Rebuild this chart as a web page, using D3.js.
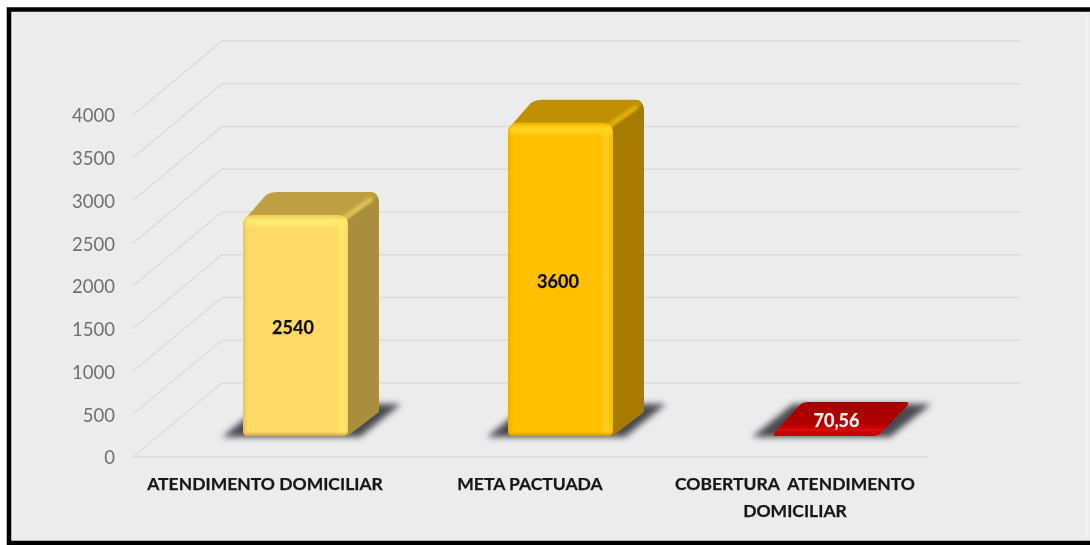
<!DOCTYPE html>
<html><head><meta charset="utf-8">
<script src="https://cdnjs.cloudflare.com/ajax/libs/d3/7.8.5/d3.min.js"></script>
<style>html,body{margin:0;padding:0;background:#fff;overflow:hidden}svg{display:block}text{white-space:pre}</style>
</head><body><svg id="c" width="1090" height="545"></svg>
<script>
const categories = ["ATENDIMENTO DOMICILIAR", "META PACTUADA", "COBERTURA  ATENDIMENTO\nDOMICILIAR"];
const values = [2540, 3600, 70.56];
const valueLabels = ["2540", "3600", "70,56"];
const yTicks = [0, 500, 1000, 1500, 2000, 2500, 3000, 3500, 4000];
const frontColors = ["#FFD966", "#FFC000", "#C00000"];
const lightColors = ["#FFE870", "#FFD21A", "#D80808"];
const edgeColors = ["#C9A23C", "#C99400", "#8A0000"];
const topColors = ["#BFA040", "#BF9000", "#A80000"];
const sideColors = ["#A98E3E", "#A67C00", "#8A0000"];
const labelColors = ["#111", "#111", "#F4F0EC"];

const W = 1090, H = 545;
const FONT = "Lato, Carlito, 'Open Sans', sans-serif";
const svg = d3.select("#c");
const defs = svg.append("defs");
const soft = defs.append("filter").attr("id","soft").attr("x","-5%").attr("y","-5%").attr("width","110%").attr("height","110%");
soft.append("feGaussianBlur").attr("stdDeviation",0.5);
const sh = defs.append("filter").attr("id","shadow").attr("x","-20%").attr("y","-50%").attr("width","140%").attr("height","200%");
sh.append("feGaussianBlur").attr("stdDeviation",3.2);
const bl = defs.append("filter").attr("id","bevelBlur").attr("filterUnits","userSpaceOnUse").attr("x",0).attr("y",0).attr("width",W).attr("height",H);
bl.append("feGaussianBlur").attr("stdDeviation",1.5);
const flatGrad = defs.append("linearGradient").attr("id","flatGrad").attr("x1",0).attr("x2",0).attr("y1",0).attr("y2",1);
flatGrad.append("stop").attr("offset","0%").attr("stop-color",topColors[2]);
flatGrad.append("stop").attr("offset","62%").attr("stop-color","#AE0000");
flatGrad.append("stop").attr("offset","82%").attr("stop-color",lightColors[2]);
flatGrad.append("stop").attr("offset","100%").attr("stop-color",frontColors[2]);

// scales
const x = d3.scaleBand().domain(categories).range([133, 928]).paddingInner(0.604).paddingOuter(0.302);
const xCat = d3.scaleBand().domain(categories).range([133, 928]);
const yAxis = d3.scaleLinear().domain([0, 4000]).range([457, 115]);
const yBar = d3.scaleLinear().domain([0, 4000]).range([436, 88]);
const wallDx = 89, wallDy = -74, barDx = 31, barDy = -23, barShift = 30, minH = 11;

// panel
const root = svg.append("g").attr("filter","url(#soft)");
root.append("rect").attr("x",9).attr("y",9).attr("width",W).attr("height",H).attr("fill","#ececec");
root.append("rect").attr("x",9).attr("y",9.5).attr("width",W).attr("height",533.5).attr("fill","none").attr("stroke","#000").attr("stroke-width",4.5);
root.append("rect").attr("x",1086).attr("y",12).attr("width",1.5).attr("height",527).attr("fill","#f3f3f3");

// gridlines
const grid = root.append("g").attr("fill","none").attr("stroke","#dcdcdc").attr("stroke-width",1.5);
yTicks.forEach(t => {
  const y0 = yAxis(t);
  grid.append("path").attr("d", d3.line()([[133,y0],[133+wallDx,y0+wallDy],[1020,y0+wallDy]]));
});
grid.append("path").attr("d", d3.line()([[133,yAxis(0)],[928,yAxis(0)]]));

// y tick labels
root.append("g").selectAll("text").data(yTicks).join("text")
  .attr("x",115).attr("y",d=>yAxis(d)+1).attr("dy","0.35em").attr("text-anchor","end")
  .attr("font-family",FONT).attr("font-size",18.5).attr("fill","#6f6f6f").text(d=>d);

// bars
values.forEach((v,i) => {
  const g = root.append("g");
  const x0 = x(categories[i]) + barShift, x1 = x0 + x.bandwidth();
  const yB = yBar(0), yT = Math.min(yBar(v), yB - minH);
  const flat = v < 500;
  const bY = yT + barDy, r = 10;

  // floor shadow
  g.append("path").attr("d", d3.line()([[x0-21,yB+1],[x0+20,yB-32],[x1+53,yB-32],[x1+12,yB+1]]))
    .attr("fill","#4a4a50").attr("filter","url(#shadow)");

  if (flat) {
    // the bar is so short that only a slab remains: one bevelled parallelogram
    g.append("path").attr("d",
      `M${x0+3},${yB} Q${x0-1},${yB} ${x0+2},${yB-4} L${x0+barDx-3},${bY+2} Q${x0+barDx},${bY} ${x0+barDx+4},${bY} L${x1+barDx-3},${bY} Q${x1+barDx+1},${bY} ${x1+barDx-2},${bY+4} L${x1+3},${yB-3} Q${x1},${yB} ${x1-4},${yB} Z`)
      .attr("fill","url(#flatGrad)");
  } else {
    // side
    g.append("path").attr("d",
      `M${x1-3},${yT+4} L${x1+barDx-7},${bY+2} Q${x1+barDx},${bY+1} ${x1+barDx},${bY+11} L${x1+barDx},${yB+barDy-1} L${x1+1},${yB-1} L${x1-3},${yB-1} Z`)
      .attr("fill",sideColors[i]);
    // top
    g.append("path").attr("d",
      `M${x0+2},${yT+4} L${x0+barDx-8},${bY+3} Q${x0+barDx-3},${bY} ${x0+barDx+4},${bY} L${x1+barDx-9},${bY} Q${x1+barDx-2},${bY} ${x1+barDx-2},${bY+5} L${x1-1},${yT+5} Z`)
      .attr("fill",topColors[i]);
    // lit edge between top and side
    g.append("path").attr("d", d3.line()([[x1-4,yT+3],[x1+barDx-7,bY+7]]))
      .attr("stroke",lightColors[i]).attr("stroke-opacity",0.5).attr("stroke-width",5).attr("filter","url(#bevelBlur)");
    // front
    const clipId = "front"+i;
    const frontD = `M${x0},${yT+r} Q${x0},${yT} ${x0+r},${yT} L${x1-r},${yT} Q${x1},${yT} ${x1},${yT+r} L${x1},${yB-6} Q${x1},${yB} ${x1-6},${yB} L${x0+5},${yB} Q${x0},${yB} ${x0},${yB-5} Z`;
    defs.append("clipPath").attr("id",clipId).append("path").attr("d",frontD);
    g.append("path").attr("d",frontD).attr("fill",frontColors[i]);
    const f = g.append("g").attr("clip-path",`url(#${clipId})`);
    f.append("rect").attr("x",x0).attr("y",yT+3).attr("width",x1-x0).attr("height",8).attr("fill",lightColors[i]).attr("filter","url(#bevelBlur)");
    f.append("rect").attr("x",x1-10).attr("y",yT+6).attr("width",7).attr("height",yB-yT).attr("fill",lightColors[i]).attr("opacity",.8).attr("filter","url(#bevelBlur)");
    f.append("rect").attr("x",x0-1).attr("y",yT).attr("width",x1-x0+2).attr("height",2).attr("fill",edgeColors[i]).attr("opacity",.4).attr("filter","url(#bevelBlur)");
    f.append("rect").attr("x",x0-1).attr("y",yT).attr("width",2.5).attr("height",yB-yT).attr("fill",edgeColors[i]).attr("opacity",.6).attr("filter","url(#bevelBlur)");
    f.append("rect").attr("x",x0).attr("y",yB-2).attr("width",x1-x0).attr("height",4).attr("fill",edgeColors[i]).attr("filter","url(#bevelBlur)");
  }

  // value label
  const lx = flat ? (x0+x1)/2 + barDx/2 - 4.5 : (x0+x1)/2 - 2.5;
  const ly = flat ? (bY+yB)/2 + 2 : (yT+yB)/2 + 2;
  g.append("text").attr("x",lx).attr("y",ly).attr("dy","0.35em").attr("text-anchor","middle")
    .attr("font-family",FONT).attr("font-weight",700).attr("font-size",18)
    .attr("stroke",labelColors[i]).attr("stroke-width",0.25)
    .attr("fill",labelColors[i]).text(valueLabels[i]);
});

// category labels
categories.forEach(c => {
  const cx = xCat(c) + xCat.bandwidth()/2 - 0.5;
  c.split("\n").forEach((line,j) => {
    root.append("text").attr("x",cx).attr("y",484+j*27).attr("dy","0.35em").attr("text-anchor","middle")
      .attr("font-family",FONT).attr("font-weight",700).attr("font-size",17.5)
      .attr("stroke","#161616").attr("stroke-width",0.25)
      .attr("fill","#161616").text(line);
  });
});
</script></body></html>
